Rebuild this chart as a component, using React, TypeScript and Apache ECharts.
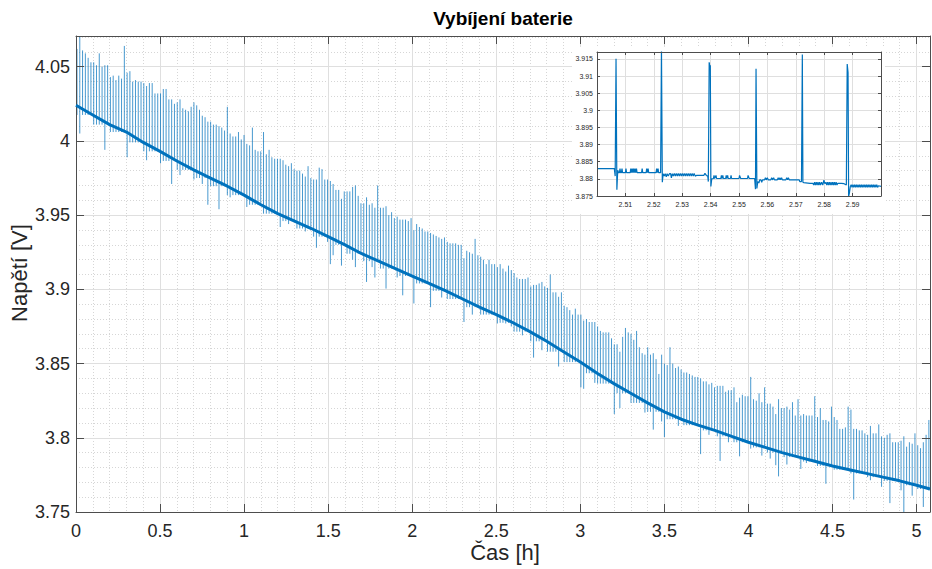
import React, { useEffect, useRef } from "react";
import * as echarts from "echarts";

// ---------- Main chart: smooth discharge baseline (read every 0.1 h) ----------
const baseTime = [
  0, 0.1, 0.2, 0.3, 0.4, 0.5, 0.6, 0.7, 0.8, 0.9,
  1.0, 1.1, 1.2, 1.3, 1.4, 1.5, 1.6, 1.7, 1.8, 1.9,
  2.0, 2.1, 2.2, 2.3, 2.4, 2.5, 2.6, 2.7, 2.8, 2.9,
  3.0, 3.1, 3.2, 3.3, 3.4, 3.5, 3.6, 3.7, 3.8, 3.9,
  4.0, 4.1, 4.2, 4.3, 4.4, 4.5, 4.6, 4.7, 4.8, 4.9,
  5.0, 5.08,
];
const baseVolt = [
  4.024, 4.0175, 4.011, 4.006, 3.999, 3.993, 3.9865, 3.9805, 3.975, 3.9695,
  3.9635, 3.957, 3.951, 3.946, 3.941, 3.9355, 3.93, 3.924, 3.919, 3.914,
  3.909, 3.904, 3.899, 3.8935, 3.888, 3.883, 3.8775, 3.8715, 3.865, 3.858,
  3.851, 3.8435, 3.8365, 3.83, 3.8235, 3.8175, 3.8125, 3.8085, 3.805, 3.801,
  3.797, 3.7935, 3.79, 3.787, 3.784, 3.781, 3.7785, 3.776, 3.7735, 3.771,
  3.768, 3.7655,
];

// ---------- Load pulses: one per minute (sample clock) ----------
const spikeStart = 0.006; // h, first pulse
const spikePeriod = 0.01656; // h, pulse period
// top voltage of each pulse
const spikeTop = [
  4.062, 4.07, 4.061, 4.059, 4.056, 4.053, 4.053, 4.051, 4.059, 4.05,
  4.051, 4.051, 4.043, 4.044, 4.041, 4.044, 4.042, 4.064, 4.046, 4.047,
  4.04, 4.041, 4.04, 4.04, 4.039, 4.037, 4.039, 4.039, 4.032, 4.032,
  4.032, 4.035, 4.035, 4.028, 4.028, 4.025, 4.026, 4.028, 4.022, 4.021,
  4.02, 4.023, 4.026, 4.024, 4.021, 4.017, 4.016, 4.013, 4.013, 4.011,
  4.011, 4.01, 4.009,
  4.007, 4.023, 4.005, 4.003, 4.003, 4.006, 4.001, 4.004, 3.998, 3.997,
  4.009, 3.994, 3.993, 3.993, 4.006, 3.991, 3.994, 3.989, 3.988, 3.988,
  3.988, 3.987, 3.984, 3.983, 3.985, 3.981, 3.98, 3.98, 3.978, 3.976,
  3.983, 3.975, 3.974, 3.974, 3.982, 3.981, 3.974, 3.974, 3.973, 3.971,
  3.967, 3.967, 3.961, 3.966, 3.966, 3.966, 3.969, 3.97, 3.963, 3.958,
  3.958, 3.962,
  3.957, 3.958, 3.955, 3.97, 3.955, 3.955, 3.956, 3.95, 3.952, 3.948,
  3.949, 3.947, 3.947, 3.947, 3.946, 3.948, 3.94, 3.944, 3.942, 3.941,
  3.939, 3.939, 3.938, 3.937, 3.936, 3.935, 3.934, 3.935, 3.932, 3.931,
  3.931, 3.931, 3.93, 3.93, 3.921, 3.926, 3.925, 3.924, 3.934, 3.923,
  3.922, 3.92, 3.917, 3.92, 3.917, 3.917,
  3.915, 3.917, 3.914, 3.912, 3.916, 3.913,
  3.911, 3.908, 3.907, 3.907, 3.907, 3.908, 3.902, 3.903, 3.903, 3.904,
  3.905, 3.902, 3.901, 3.91, 3.898, 3.898, 3.895, 3.898, 3.889, 3.888,
  3.886, 3.883, 3.887, 3.883, 3.883, 3.879, 3.88, 3.878, 3.878, 3.878,
  3.875, 3.872, 3.871, 3.871, 3.871, 3.867, 3.863, 3.863, 3.858, 3.868,
  3.874, 3.871, 3.87, 3.866, 3.872, 3.861, 3.857, 3.856, 3.861, 3.856,
  3.857,
  3.853, 3.843, 3.856, 3.85, 3.849, 3.861, 3.85, 3.847, 3.848, 3.846,
  3.844, 3.844, 3.843, 3.842, 3.841, 3.841, 3.84, 3.838, 3.838, 3.836,
  3.837, 3.834, 3.835, 3.835, 3.835, 3.831, 3.832, 3.832, 3.834, 3.824,
  3.827, 3.829, 3.828, 3.828, 3.841, 3.826, 3.825, 3.83, 3.824, 3.834,
  3.823, 3.823, 3.821, 3.816, 3.826, 3.82, 3.82, 3.821, 3.819, 3.824,
  3.815, 3.826,
  3.815, 3.816, 3.815, 3.815, 3.815, 3.828, 3.814, 3.82, 3.812, 3.812,
  3.811, 3.821, 3.814, 3.812, 3.806, 3.806, 3.807, 3.821, 3.819, 3.806,
  3.806, 3.805, 3.805, 3.803, 3.802, 3.808, 3.803, 3.803, 3.809, 3.801,
  3.8, 3.802, 3.803, 3.797, 3.797, 3.797, 3.798, 3.801, 3.794, 3.797,
  3.796, 3.803, 3.795, 3.793, 3.797, 3.802, 3.812,
];
// pulses followed by a deeper voltage dip: pulse number and lowest voltage
const dipPulse = [
  1, 10, 18, 25, 30, 34, 37, 42, 45, 47, 51, 55, 61, 73, 76, 82, 86, 90, 91, 92,
  95, 97, 99, 100, 104, 106, 107, 111, 115, 117, 121, 127, 131, 139, 142, 145, 151, 152, 153, 154,
  155, 156, 160, 164, 167, 173, 181, 182, 186, 193, 195, 204, 207, 210, 211, 216, 224, 227, 231, 234,
  238, 242, 246, 249, 251, 252, 255, 258, 260, 262, 269, 272, 279, 285, 289, 292, 296, 297, 300, 304,
  306,
];
const dipVolt = [
  4.005, 3.994, 3.989, 3.987, 3.985, 3.971, 3.977, 3.974, 3.971, 3.957, 3.954, 3.962, 3.9555, 3.942, 3.944, 3.939, 3.928, 3.932, 3.917, 3.923,
  3.916, 3.925, 3.92, 3.915, 3.905, 3.915, 3.908, 3.9005, 3.908, 3.896, 3.8905, 3.888, 3.8945, 3.878, 3.883, 3.883, 3.877, 3.879, 3.878, 3.877,
  3.879, 3.875, 3.869, 3.854, 3.859, 3.848, 3.834, 3.833, 3.837, 3.816, 3.82, 3.817, 3.8055, 3.811, 3.8005, 3.808, 3.789, 3.802, 3.7844, 3.797,
  3.7875, 3.7927, 3.788, 3.786, 3.7815, 3.774, 3.782, 3.7875, 3.779, 3.783, 3.769, 3.7786, 3.7584, 3.7714, 3.767, 3.756, 3.7646, 3.7495, 3.761, 3.7534,
  3.7646,
];

// ---------- Inset: detail 2.50 - 2.60 h (time h, voltage V) ----------
const insetSamples: [number, number][] = [
  [2.5, 3.883], [2.5061, 3.883], [2.5064, 3.8808], [2.5067, 3.915], [2.507, 3.8768], [2.5073, 3.8825],
  [2.5076, 3.8818], [2.5079, 3.8818], [2.5081, 3.883], [2.5083, 3.8818], [2.5086, 3.8818], [2.5088, 3.883],
  [2.509, 3.8818], [2.51, 3.8818], [2.5102, 3.883], [2.5104, 3.8818], [2.5117, 3.8818], [2.5119, 3.883],
  [2.5121, 3.8818], [2.5124, 3.883], [2.5126, 3.8818], [2.5129, 3.883], [2.5131, 3.8818], [2.5134, 3.883],
  [2.5136, 3.8818], [2.5139, 3.883], [2.5141, 3.8818], [2.5157, 3.8818], [2.5159, 3.883], [2.5161, 3.8818],
  [2.5173, 3.8818], [2.5175, 3.883], [2.5177, 3.8818], [2.518, 3.883], [2.5182, 3.8818], [2.5208, 3.8818],
  [2.521, 3.883], [2.5212, 3.8818], [2.5215, 3.883], [2.5217, 3.8818], [2.5224, 3.8818],
  [2.5227, 3.918], [2.523, 3.879], [2.5233, 3.8815],
  [2.5237, 3.8808], [2.524, 3.8815], [2.5244, 3.8806], [2.5247, 3.8815], [2.5251, 3.8808], [2.5255, 3.8815],
  [2.5259, 3.8815], [2.5262, 3.8803], [2.5265, 3.8815], [2.5269, 3.8808], [2.5272, 3.8816], [2.5276, 3.8808],
  [2.5279, 3.8816], [2.5283, 3.8808], [2.5286, 3.8816], [2.529, 3.8808], [2.5293, 3.8816], [2.5297, 3.8808],
  [2.53, 3.8816], [2.5304, 3.8808], [2.5307, 3.8816], [2.5311, 3.8808], [2.5314, 3.8816], [2.5318, 3.8808],
  [2.5321, 3.8816], [2.5325, 3.8808], [2.5328, 3.8816], [2.5332, 3.8808], [2.5335, 3.8816], [2.5339, 3.8808],
  [2.5342, 3.8816], [2.5346, 3.8808], [2.535, 3.881], [2.5376, 3.881], [2.538, 3.8816], [2.5385, 3.881],
  [2.539, 3.8808],
  [2.5392, 3.8792], [2.5395, 3.914], [2.5397, 3.9128], [2.5399, 3.9131], [2.5401, 3.8778], [2.5404, 3.88],
  [2.541, 3.8801], [2.5412, 3.881], [2.5414, 3.8801], [2.5419, 3.881], [2.5421, 3.8801], [2.5436, 3.8801],
  [2.5438, 3.881], [2.544, 3.8801], [2.5443, 3.881], [2.5445, 3.8801], [2.5453, 3.8801], [2.5455, 3.881],
  [2.5457, 3.8801], [2.546, 3.881], [2.5462, 3.8801], [2.547, 3.8801], [2.5472, 3.881], [2.5474, 3.8801],
  [2.55, 3.8801], [2.5502, 3.881], [2.5504, 3.881], [2.5506, 3.8801], [2.553, 3.8801], [2.5532, 3.881],
  [2.5534, 3.881], [2.5536, 3.8801], [2.5555, 3.8801],
  [2.5558, 3.877], [2.556, 3.9121], [2.5563, 3.8772], [2.5566, 3.8792],
  [2.557, 3.8788], [2.5573, 3.8797], [2.5577, 3.8797], [2.558, 3.879], [2.5583, 3.8797], [2.559, 3.8797],
  [2.5593, 3.8803], [2.5596, 3.8797], [2.56, 3.8803], [2.5603, 3.8797], [2.5612, 3.8797], [2.5615, 3.8803],
  [2.5618, 3.8797], [2.5622, 3.8803], [2.5625, 3.8797], [2.5635, 3.8797], [2.5638, 3.8803], [2.5641, 3.8797],
  [2.5644, 3.8803], [2.5647, 3.8797], [2.565, 3.8803], [2.5653, 3.8797], [2.5665, 3.8797], [2.5668, 3.8803],
  [2.5671, 3.8797], [2.5674, 3.8803], [2.5677, 3.8797], [2.5712, 3.8797], [2.5714, 3.8792], [2.572, 3.8792],
  [2.5723, 3.9163], [2.5725, 3.879], [2.5728, 3.8789],
  [2.575, 3.8787], [2.576, 3.8787], [2.5763, 3.8782], [2.5766, 3.879], [2.5769, 3.8782], [2.5772, 3.879],
  [2.5775, 3.8782], [2.5778, 3.879], [2.5781, 3.8782], [2.5784, 3.879], [2.5787, 3.8782], [2.5791, 3.879],
  [2.5795, 3.8782], [2.5799, 3.8796], [2.5802, 3.8786], [2.5806, 3.879], [2.5809, 3.8782], [2.5812, 3.879],
  [2.5815, 3.8782], [2.5818, 3.879], [2.5821, 3.8782], [2.5824, 3.879], [2.5827, 3.8782], [2.583, 3.879],
  [2.5833, 3.8782], [2.5836, 3.879], [2.5839, 3.8782], [2.5842, 3.879], [2.5845, 3.8782], [2.5848, 3.8787],
  [2.586, 3.8787], [2.587, 3.8786], [2.5878, 3.8782],
  [2.5881, 3.9135], [2.5884, 3.911], [2.5886, 3.8748], [2.5889, 3.876],
  [2.5892, 3.8778], [2.5895, 3.8783], [2.5898, 3.8775], [2.5901, 3.8783], [2.5904, 3.8775], [2.5907, 3.8783],
  [2.591, 3.8775], [2.5913, 3.8783], [2.5916, 3.8775], [2.5919, 3.8783], [2.5922, 3.8775], [2.5925, 3.8783],
  [2.5928, 3.8775], [2.5931, 3.8783], [2.5934, 3.8775], [2.5937, 3.8783], [2.594, 3.8775], [2.5943, 3.8783],
  [2.5946, 3.8775], [2.5949, 3.8783], [2.5952, 3.8775], [2.5955, 3.8783], [2.5958, 3.8775], [2.5961, 3.8783],
  [2.5964, 3.8775], [2.5967, 3.8783], [2.597, 3.8775], [2.5973, 3.8783], [2.5976, 3.8775], [2.5979, 3.8783],
  [2.5982, 3.8775], [2.5985, 3.8783], [2.5988, 3.8775], [2.5991, 3.878], [2.6, 3.8778],
];

// ---------- Axis ranges / ticks ----------
const mainXRange = [0, 5.08];
const mainYRange = [3.75, 4.0707];
const mainXStep = 0.5;
const mainYStep = 0.05;
const mainXMinor = 0.1;
const mainYMinor = 0.01;
const insetXRange = [2.5, 2.6];
const insetYRange = [3.875, 3.917];
const insetXStep = 0.01;
const insetYStep = 0.005;

const titleText = "Vybíjení baterie";
const xLabelText = "Čas [h]";
const yLabelText = "Napětí [V]";

const FONT = '"Liberation Sans", Arial, Helvetica, sans-serif';
const BLUE = "#0072BD";
const AXIS = "#4d4d4d";
const LABEL = "#262626";
const MAJOR = "#dfdfdf";
const MINOR = "#d6d6d6";

function buildSpikes() {
  return spikeTop.map((top, k) => {
    const t = spikeStart + k * spikePeriod;
    let j = 0;
    while (j < baseTime.length - 2 && baseTime[j + 1] <= t) j++;
    let foot = Math.min(baseVolt[j], baseVolt[j + 1]);
    const d = dipPulse.indexOf(k);
    if (d >= 0) foot = Math.min(foot, dipVolt[d]);
    return [t, top, foot];
  });
}

const hidden = {
  axisLine: { show: false },
  axisTick: { show: false },
  axisLabel: { show: false },
};

export default function App() {
  const ref = useRef<HTMLDivElement>(null);
  useEffect(() => {
    if (!ref.current) return;
    const chart = echarts.init(ref.current, null, { renderer: "svg" });
    const mainGrid = { left: 76, top: 36, right: 2, bottom: 57, show: false };
    const insetGrid = { left: 597, top: 52, width: 284, height: 144, show: false };

    const boxLine = { show: true, onZero: false, lineStyle: { color: AXIS, width: 1 } };
    const mainTick = { show: true, inside: true, length: 8, lineStyle: { color: AXIS, width: 1 } };
    const insetTick = { show: true, inside: true, length: 3, lineStyle: { color: AXIS, width: 1 } };

    const option: any = {
      animation: false,
      backgroundColor: "#fff",
      grid: [mainGrid, { ...mainGrid }, insetGrid, { ...insetGrid }],
      xAxis: [
        {
          gridIndex: 0, type: "value", position: "bottom", z: 3,
          min: mainXRange[0], max: mainXRange[1], interval: mainXStep,
          axisLine: boxLine, axisTick: mainTick,
          axisLabel: { margin: 10, fontSize: 18, color: LABEL, fontFamily: FONT, showMaxLabel: false },
          splitLine: { show: false },
        },
        {
          gridIndex: 0, type: "value", position: "top", z: 3,
          min: mainXRange[0], max: mainXRange[1], interval: mainXStep,
          axisLine: boxLine, axisTick: mainTick, axisLabel: { show: false }, splitLine: { show: false },
        },
        {
          gridIndex: 1, type: "value", position: "bottom", z: 1,
          min: mainXRange[0], max: mainXRange[1], interval: mainXStep, ...hidden,
          splitLine: { show: true, lineStyle: { color: MAJOR, width: 1 } },
        },
        {
          gridIndex: 1, type: "value", position: "top", z: 0,
          min: mainXRange[0], max: mainXRange[1], interval: mainXMinor, ...hidden,
          splitLine: { show: true, lineStyle: { color: MINOR, width: 1, type: [1, 2] } },
        },
        {
          gridIndex: 2, type: "value", position: "bottom", z: 7,
          min: insetXRange[0], max: insetXRange[1], interval: insetXStep,
          axisLine: boxLine, axisTick: insetTick,
          axisLabel: { margin: 5, fontSize: 7, color: LABEL, fontFamily: FONT, showMinLabel: false, showMaxLabel: false },
          splitLine: { show: false },
        },
        {
          gridIndex: 2, type: "value", position: "top", z: 7,
          min: insetXRange[0], max: insetXRange[1], interval: insetXStep,
          axisLine: boxLine, axisTick: insetTick, axisLabel: { show: false }, splitLine: { show: false },
        },
        {
          gridIndex: 3, type: "value", position: "bottom", z: 5,
          min: insetXRange[0], max: insetXRange[1], interval: insetXStep, ...hidden,
          splitLine: { show: true, lineStyle: { color: MAJOR, width: 1 } },
        },
      ],
      yAxis: [
        {
          gridIndex: 0, type: "value", position: "left", z: 3,
          min: mainYRange[0], max: mainYRange[1], interval: mainYStep,
          axisLine: boxLine, axisTick: mainTick,
          axisLabel: { margin: 6, fontSize: 18, color: LABEL, fontFamily: FONT, showMaxLabel: false },
          splitLine: { show: false },
        },
        {
          gridIndex: 0, type: "value", position: "right", z: 3,
          min: mainYRange[0], max: mainYRange[1], interval: mainYStep,
          axisLine: boxLine, axisTick: mainTick, axisLabel: { show: false }, splitLine: { show: false },
        },
        {
          gridIndex: 1, type: "value", position: "left", z: 1,
          min: mainYRange[0], max: mainYRange[1], interval: mainYStep, ...hidden,
          splitLine: { show: true, lineStyle: { color: MAJOR, width: 1 } },
        },
        {
          gridIndex: 1, type: "value", position: "right", z: 0,
          min: mainYRange[0], max: mainYRange[1], interval: mainYMinor, ...hidden,
          splitLine: { show: true, lineStyle: { color: MINOR, width: 1, type: [1, 2] } },
        },
        {
          gridIndex: 2, type: "value", position: "left", z: 7,
          min: insetYRange[0], max: insetYRange[1], interval: insetYStep,
          axisLine: boxLine, axisTick: insetTick,
          axisLabel: { margin: 4, fontSize: 7, color: LABEL, fontFamily: FONT, showMaxLabel: false },
          splitLine: { show: false },
        },
        {
          gridIndex: 2, type: "value", position: "right", z: 7,
          min: insetYRange[0], max: insetYRange[1], interval: insetYStep,
          axisLine: boxLine, axisTick: insetTick, axisLabel: { show: false }, splitLine: { show: false },
        },
        {
          gridIndex: 3, type: "value", position: "left", z: 5,
          min: insetYRange[0], max: insetYRange[1], interval: insetYStep, ...hidden,
          splitLine: { show: true, lineStyle: { color: MAJOR, width: 1 } },
        },
      ],
      graphic: [
        { type: "rect", z: 4, silent: true, shape: { x: 572, y: 47, width: 313, height: 167 }, style: { fill: "#fff" } },
        {
          type: "text", z: 10, x: 503, y: 18,
          style: { text: titleText, font: `bold 19px ${FONT}`, fill: "#000", textAlign: "center", textVerticalAlign: "middle", align: "center", verticalAlign: "middle" },
        },
        {
          type: "text", z: 10, x: 505, y: 552,
          style: { text: xLabelText, font: `22px ${FONT}`, fill: LABEL, textAlign: "center", textVerticalAlign: "middle", align: "center", verticalAlign: "middle" },
        },
        {
          type: "text", z: 10, x: 19, y: 273, rotation: Math.PI / 2,
          style: { text: yLabelText, font: `22px ${FONT}`, fill: LABEL, textAlign: "center", textVerticalAlign: "middle", align: "center", verticalAlign: "middle" },
        },
      ],
      series: [
        {
          type: "custom", name: "pulses", xAxisIndex: 0, yAxisIndex: 0, z: 2, clip: true, silent: true,
          data: buildSpikes(),
          encode: { x: 0, y: 1 },
          renderItem: (_p: any, api: any) => {
            const a = api.coord([api.value(0), api.value(1)]);
            const b = api.coord([api.value(0), api.value(2)]);
            return {
              type: "line",
              shape: { x1: a[0], y1: a[1], x2: b[0], y2: b[1] },
              style: { stroke: BLUE, lineWidth: 1, opacity: 0.72 },
            };
          },
        },
        {
          type: "line", name: "baseline", xAxisIndex: 0, yAxisIndex: 0, z: 3, silent: true,
          showSymbol: false, symbol: "none",
          data: baseTime.map((t, i) => [t, baseVolt[i]]),
          lineStyle: { color: BLUE, width: 3 },
        },
        {
          type: "line", name: "inset", xAxisIndex: 4, yAxisIndex: 4, z: 6, silent: true, clip: true,
          showSymbol: false, symbol: "none",
          data: insetSamples,
          lineStyle: { color: BLUE, width: 1.2 },
        },
      ],
    };
    chart.setOption(option);
    return () => chart.dispose();
  }, []);
  return (
    <div
      ref={ref}
      style={{ position: "fixed", left: 0, top: 0, width: 932, height: 569, background: "#fff" }}
    />
  );
}
